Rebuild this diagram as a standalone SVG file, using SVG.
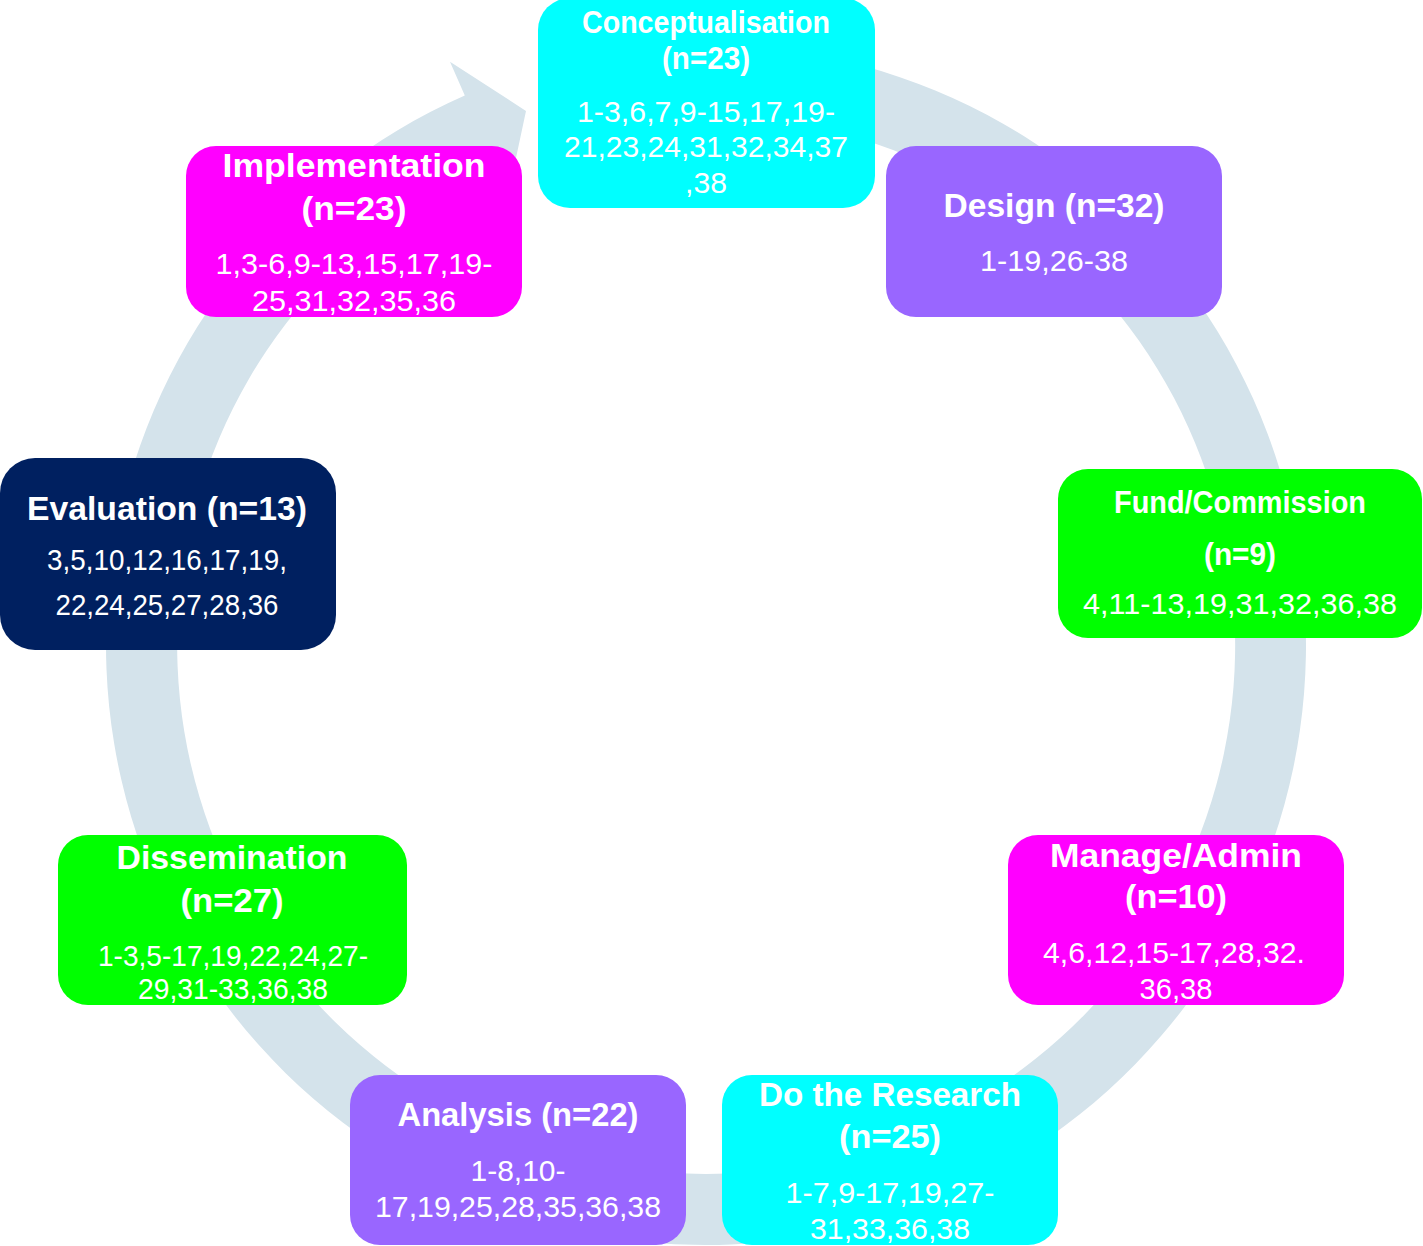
<svg xmlns="http://www.w3.org/2000/svg" width="1423" height="1246" viewBox="0 0 1423 1246">
<style>
.t{font-family:"Liberation Sans",Arial,sans-serif;font-weight:bold;font-size:34px;fill:#fff;text-anchor:middle}
.ts{font-size:31px}
.n{font-family:"Liberation Sans",Arial,sans-serif;font-size:30px;fill:#fff;text-anchor:middle}
.cyan{fill:#00ffff}.purple{fill:#9966ff}.magenta{fill:#ff00ff}.green{fill:#00ff00}.navy{fill:#002060}
</style>
<rect width="1423" height="1246" fill="#fff"/>
<g id="connectors">
<path d="M 601.8 54.1 A 600 600 0 1 1 464.8 95.6 L 450 61.7 L 526 111 L 508.2 194.5 L 493.4 160.6 A 529 529 0 1 0 614.1 124 Z" fill="#d4e3eb"/>
</g>
<g id="conceptualisation">
<rect class="cyan" x="538" y="-2" width="337" height="210" rx="32"/>
<text class="t ts" x="706" y="33" textLength="248" lengthAdjust="spacingAndGlyphs">Conceptualisation</text>
<text class="t ts" x="706" y="69" textLength="88" lengthAdjust="spacingAndGlyphs">(n=23)</text>
<text class="n" x="706" y="122" textLength="258" lengthAdjust="spacingAndGlyphs">1-3,6,7,9-15,17,19-</text>
<text class="n" x="706" y="157" textLength="284" lengthAdjust="spacingAndGlyphs">21,23,24,31,32,34,37</text>
<text class="n" x="706" y="193" textLength="42" lengthAdjust="spacingAndGlyphs">,38</text>
</g>
<g id="design">
<rect class="purple" x="886" y="146" width="336" height="171" rx="30"/>
<text class="t" x="1054" y="217" textLength="221" lengthAdjust="spacingAndGlyphs">Design (n=32)</text>
<text class="n" x="1054" y="271" textLength="148" lengthAdjust="spacingAndGlyphs">1-19,26-38</text>
</g>
<g id="implementation">
<rect class="magenta" x="186" y="146" width="336" height="171" rx="30"/>
<text class="t" x="354" y="177" textLength="263" lengthAdjust="spacingAndGlyphs">Implementation</text>
<text class="t" x="354" y="220" textLength="105" lengthAdjust="spacingAndGlyphs">(n=23)</text>
<text class="n" x="354" y="274" textLength="277" lengthAdjust="spacingAndGlyphs">1,3-6,9-13,15,17,19-</text>
<text class="n" x="354" y="311" textLength="204" lengthAdjust="spacingAndGlyphs">25,31,32,35,36</text>
</g>
<g id="evaluation">
<rect class="navy" x="0" y="458" width="336" height="192" rx="35"/>
<text class="t" x="167" y="520" textLength="280" lengthAdjust="spacingAndGlyphs">Evaluation (n=13)</text>
<text class="n" x="167" y="570" textLength="240" lengthAdjust="spacingAndGlyphs">3,5,10,12,16,17,19,</text>
<text class="n" x="167" y="615" textLength="223" lengthAdjust="spacingAndGlyphs">22,24,25,27,28,36</text>
</g>
<g id="fund-commission">
<rect class="green" x="1058" y="469" width="364" height="169" rx="30"/>
<text class="t ts" x="1240" y="513" textLength="252" lengthAdjust="spacingAndGlyphs">Fund/Commission</text>
<text class="t ts" x="1240" y="565" textLength="72" lengthAdjust="spacingAndGlyphs">(n=9)</text>
<text class="n" x="1240" y="614" textLength="314" lengthAdjust="spacingAndGlyphs">4,11-13,19,31,32,36,38</text>
</g>
<g id="manage-admin">
<rect class="magenta" x="1008" y="835" width="336" height="170" rx="30"/>
<text class="t" x="1176" y="867" textLength="252" lengthAdjust="spacingAndGlyphs">Manage/Admin</text>
<text class="t" x="1176" y="908" textLength="102" lengthAdjust="spacingAndGlyphs">(n=10)</text>
<text class="n" x="1174" y="963" textLength="262" lengthAdjust="spacingAndGlyphs">4,6,12,15-17,28,32.</text>
<text class="n" x="1176" y="999" textLength="73" lengthAdjust="spacingAndGlyphs">36,38</text>
</g>
<g id="do-the-research">
<rect class="cyan" x="722" y="1075" width="336" height="170" rx="30"/>
<text class="t" x="890" y="1106" textLength="262" lengthAdjust="spacingAndGlyphs">Do the Research</text>
<text class="t" x="890" y="1148" textLength="102" lengthAdjust="spacingAndGlyphs">(n=25)</text>
<text class="n" x="890" y="1203" textLength="209" lengthAdjust="spacingAndGlyphs">1-7,9-17,19,27-</text>
<text class="n" x="890" y="1239" textLength="160" lengthAdjust="spacingAndGlyphs">31,33,36,38</text>
</g>
<g id="analysis">
<rect class="purple" x="350" y="1075" width="336" height="170" rx="30"/>
<text class="t" x="518" y="1126" textLength="241" lengthAdjust="spacingAndGlyphs">Analysis (n=22)</text>
<text class="n" x="518" y="1181" textLength="95" lengthAdjust="spacingAndGlyphs">1-8,10-</text>
<text class="n" x="518" y="1217" textLength="286" lengthAdjust="spacingAndGlyphs">17,19,25,28,35,36,38</text>
</g>
<g id="dissemination">
<rect class="green" x="58" y="835" width="349" height="170" rx="30"/>
<text class="t" x="232" y="869" textLength="231" lengthAdjust="spacingAndGlyphs">Dissemination</text>
<text class="t" x="232" y="912" textLength="103" lengthAdjust="spacingAndGlyphs">(n=27)</text>
<text class="n" x="233" y="966" textLength="270" lengthAdjust="spacingAndGlyphs">1-3,5-17,19,22,24,27-</text>
<text class="n" x="233" y="999" textLength="190" lengthAdjust="spacingAndGlyphs">29,31-33,36,38</text>
</g>
</svg>
